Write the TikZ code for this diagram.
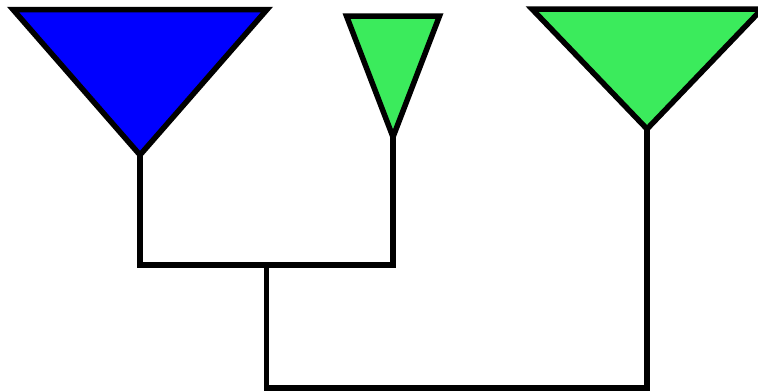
\documentclass[tikz,border=0pt]{standalone}
\definecolor{antblue}{RGB}{0,0,255}
\definecolor{antgreen}{RGB}{59,235,92}
\tikzset{
  antenna/.style={draw=black, line width=5.5pt, line join=miter, miter limit=10},
  wire/.style={draw=black, line width=5.5pt, line cap=rect, line join=miter}
}
\begin{document}
\begin{tikzpicture}[x=1pt,y=-1pt]
\useasboundingbox (0,0) rectangle (758,391);
\begin{scope}
\clip (0,0) rectangle (758,391);
% antennas
\coordinate (a1) at (140,155);
\coordinate (a2) at (393,137);
\coordinate (a3) at (647,129);
\path[antenna, fill=antblue] (13,9.5) -- (267,9.5) -- (a1) -- cycle;
\path[antenna, fill=antgreen] (346.5,16) -- (439.5,16) -- (a2) -- cycle;
\path[antenna, fill=antgreen] (532,9) -- (762,9) -- (a3) -- cycle;
% tree connectors
\coordinate (j1l) at (140,265);
\coordinate (j1r) at (393,265);
\coordinate (j1m) at (266.5,265);
\coordinate (j2l) at (266.5,388);
\coordinate (j2r) at (647,388);
\draw[wire] (a1) -- (j1l) -- (j1r) -- (a2);
\draw[wire] (j1m) -- (j2l) -- (j2r) -- (a3);
\end{scope}
\end{tikzpicture}
\end{document}
